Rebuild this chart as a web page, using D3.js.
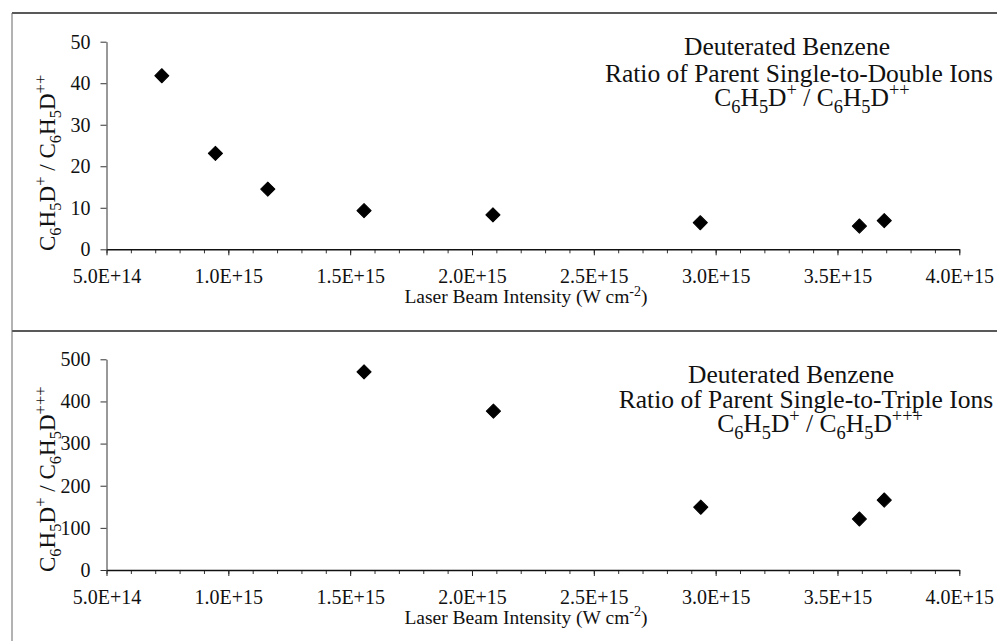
<!DOCTYPE html>
<html>
<head>
<meta charset="utf-8">
<script src="https://cdn.jsdelivr.net/npm/d3@7"></script>
<style>
  body { margin: 0; background: #fff; }
  text { font-family: "Liberation Serif", "Times New Roman", serif; fill: #111; }
</style>
</head>
<body>
<div id="chart"></div>
<script>
// data
const doubleX = [7.27e14, 9.47e14, 1.162e15, 1.557e15, 2.086e15, 2.937e15, 3.59e15, 3.692e15];
const doubleY = [41.8, 23.1, 14.5, 9.3, 8.3, 6.4, 5.6, 6.9];
const tripleX = [1.557e15, 2.088e15, 2.939e15, 3.59e15, 3.692e15];
const tripleY = [470, 377, 149, 121, 166];
const xTicks = [5e14, 1e15, 1.5e15, 2e15, 2.5e15, 3e15, 3.5e15, 4e15];
const xMinor = d3.range(5, 41).map(d => d * 1e14);
const yTicksTop = [0, 10, 20, 30, 40, 50];
const yTicksBottom = [0, 100, 200, 300, 400, 500];
const titleTop = ["Deuterated Benzene", "Ratio of Parent Single-to-Double Ions"];
const titleBottom = ["Deuterated Benzene", "Ratio of Parent Single-to-Triple Ions"];
const xTitle = "Laser Beam Intensity (W cm";

const width = 997, height = 641;
const svg = d3.select("#chart").append("svg")
  .attr("width", width).attr("height", height)
  .style("background", "#fff");

// frame lines
svg.append("line").attr("x1", 12).attr("x2", width).attr("y1", 13).attr("y2", 13)
  .attr("stroke", "#222").attr("stroke-width", 1.5);
svg.append("line").attr("x1", 12).attr("x2", width).attr("y1", 331).attr("y2", 331)
  .attr("stroke", "#222").attr("stroke-width", 1.5);
svg.append("line").attr("x1", 12).attr("x2", 12).attr("y1", 13).attr("y2", height)
  .attr("stroke", "#666").attr("stroke-width", 1);

const x = d3.scaleLinear().domain([5e14, 4e15]).range([106.5, 959.3]);

function fmt(v) {
  const e = Math.floor(Math.log10(v) + 1e-9);
  return (v / Math.pow(10, e)).toFixed(1) + "E+" + e;
}

// formula pieces: [text, 0 normal | 1 sub | 2 sup]
function formula(sel, parts, size) {
  let cur = 0;
  parts.forEach(p => {
    const target = p[1] === 1 ? size * 0.28 : p[1] === 2 ? -size * 0.4 : 0;
    sel.append("tspan")
      .attr("dy", target - cur)
      .attr("font-size", p[1] ? size * 0.72 : size)
      .text(p[0]);
    cur = target;
  });
}

function ratio(plus) {
  return [["C", 0], ["6", 1], ["H", 0], ["5", 1], ["D", 0], ["+", 2], [" / ", 0],
          ["C", 0], ["6", 1], ["H", 0], ["5", 1], ["D", 0], [plus, 2]];
}

function panel(opt) {
  const y = d3.scaleLinear().domain(opt.yDomain).range([opt.y0, opt.y1]);
  const g = svg.append("g");

  // minor x ticks
  g.append("g").attr("transform", `translate(0,${opt.y0})`)
    .call(d3.axisBottom(x).tickValues(xMinor).tickSize(4).tickFormat(""))
    .call(a => a.select(".domain").remove())
    .selectAll("line").attr("stroke", "#333");

  const xa = g.append("g").attr("transform", `translate(0,${opt.y0})`)
    .call(d3.axisBottom(x).tickValues(xTicks).tickFormat(fmt).tickSize(6).tickSizeOuter(0).tickPadding(14));
  xa.select(".domain").attr("stroke", "#111").attr("stroke-width", 1.5);
  xa.selectAll("line").attr("stroke", "#222");
  xa.selectAll("text").attr("font-size", 20).attr("fill", "#111");

  const ya = g.append("g").attr("transform", `translate(${x.range()[0]},0)`)
    .call(d3.axisLeft(y).tickValues(opt.yTicks).tickSize(6).tickSizeOuter(0).tickPadding(10));
  ya.select(".domain").attr("stroke", "#333").attr("stroke-width", 1);
  ya.selectAll("line").attr("stroke", "#333");
  ya.selectAll("text").attr("font-size", 20).attr("fill", "#111");

  // points
  g.selectAll("path.pt").data(opt.xs.map((v, i) => [v, opt.ys[i]])).enter()
    .append("path").attr("class", "pt")
    .attr("d", d3.symbol().type(d3.symbolSquare).size(100))
    .attr("transform", d => `translate(${x(d[0])},${y(d[1])}) rotate(45)`)
    .attr("fill", "#000")
    .attr("stroke", "#000").attr("stroke-width", 1).attr("stroke-linejoin", "round");

  // x title
  const xt = g.append("text").attr("x", 526).attr("y", opt.y0 + 54)
    .attr("text-anchor", "middle");
  formula(xt, [[xTitle, 0], ["-2", 2], [")", 0]], 19.5);

  // y title
  const yt = g.append("text")
    .attr("transform", `translate(55,${opt.yLabelStart}) rotate(-90)`)
    .attr("text-anchor", "start");
  formula(yt, ratio(opt.plus), 23);

  // titles
  g.append("text").attr("x", opt.tx[0]).attr("y", opt.ty[0]).attr("text-anchor", "middle")
    .attr("font-size", 25.5).text(opt.title[0]);
  g.append("text").attr("x", opt.tx[1]).attr("y", opt.ty[1]).attr("text-anchor", "middle")
    .attr("font-size", 25.5).text(opt.title[1]);
  const ft = g.append("text").attr("x", opt.tx[2]).attr("y", opt.ty[2]).attr("text-anchor", "middle");
  formula(ft, ratio(opt.plus), 25.5);
}

panel({
  yDomain: [0, 50], y0: 249.3, y1: 41.7, yTicks: yTicksTop,
  xs: doubleX, ys: doubleY, plus: "++", yLabelStart: 251,
  title: titleTop, tx: [787, 799, 812], ty: [55, 82, 106]
});
panel({
  yDomain: [0, 500], y0: 570, y1: 359.3, yTicks: yTicksBottom,
  xs: tripleX, ys: tripleY, plus: "+++", yLabelStart: 572,
  title: titleBottom, tx: [791, 806, 820], ty: [383, 408, 432]
});
</script>
</body>
</html>
